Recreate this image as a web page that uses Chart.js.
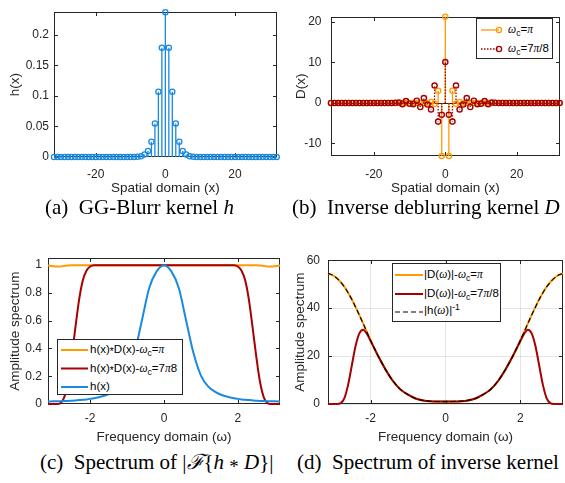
<!DOCTYPE html>
<html>
<head>
<meta charset="utf-8">
<script src="https://cdn.jsdelivr.net/npm/chart.js@4.4.1/dist/chart.umd.min.js"></script>
<style>
  html, body { margin: 0; padding: 0; background: #fff; }
  #fig { position: relative; width: 565px; height: 483px; overflow: hidden;
         font-family: "Liberation Sans", Arial, sans-serif; color: #262626; }
  canvas { position: absolute; }
  .cap { position: absolute; font-family: "Liberation Serif", "Times New Roman", serif;
         font-size: 21px; color: #000; white-space: nowrap; line-height: 1; }
  .cap i { font-style: italic; }
  .ast { position: relative; top: 0.22em; font-size: 0.9em; }
  .leg { position: absolute; background: #fff; border: 1px solid #262626; box-sizing: border-box; font-size: 11.5px; }
  .leg svg { position: absolute; left: 0; top: 0; }
  .leg .t { position: absolute; white-space: nowrap; line-height: 12px; color: #000; }
  .g { font-family: "Liberation Serif", "Times New Roman", serif; font-style: italic; }
  sub { font-size: 0.75em; vertical-align: -0.35em; line-height: 0; }
  sup { font-size: 0.75em; vertical-align: 0.5em; line-height: 0; }
</style>
</head>
<body>
<div id="fig">
  <canvas id="cA" width="282" height="200" style="left:0;top:0"></canvas>
  <canvas id="cB" width="283" height="200" style="left:282px;top:0"></canvas>
  <canvas id="cC" width="282" height="205" style="left:0;top:245px"></canvas>
  <canvas id="cD" width="283" height="205" style="left:282px;top:245px"></canvas>

  <!-- legend of panel (b) -->
  <div class="leg" style="left:476px;top:18px;width:77px;height:41px">
    <svg width="77" height="41">
      <line x1="4" y1="11" x2="22" y2="11" stroke="#ff9a00" stroke-width="1.3"/>
      <circle cx="22" cy="11" r="2.6" fill="none" stroke="#ff9a00" stroke-width="1.3"/>
      <line x1="4" y1="30" x2="22" y2="30" stroke="#a80000" stroke-width="1.3" stroke-dasharray="1.5 1.5"/>
      <circle cx="22" cy="30" r="2.6" fill="none" stroke="#a80000" stroke-width="1.4"/>
    </svg>
    <div class="t" style="left:31px;top:4px"><span class="g">ω</span><sub>c</sub>=<span class="g">π</span></div>
    <div class="t" style="left:31px;top:23px"><span class="g">ω</span><sub>c</sub>=7<span class="g">π</span>/8</div>
  </div>

  <!-- legend of panel (c) -->
  <div class="leg" style="left:57px;top:339px;width:126px;height:56px">
    <svg width="126" height="56">
      <line x1="3" y1="10" x2="30" y2="10" stroke="#ff9a00" stroke-width="2"/>
      <line x1="3" y1="28.5" x2="30" y2="28.5" stroke="#a80000" stroke-width="2"/>
      <line x1="3" y1="47" x2="30" y2="47" stroke="#1a8ae0" stroke-width="2"/>
    </svg>
    <div class="t" style="left:32px;top:3px">h(x)<span class="ast">*</span>D(x)-<span class="g">ω</span><sub>c</sub>=<span class="g">π</span></div>
    <div class="t" style="left:32px;top:21.5px">h(x)<span class="ast">*</span>D(x)-<span class="g">ω</span><sub>c</sub>=7<span class="g">π</span>8</div>
    <div class="t" style="left:32px;top:40px">h(x)</div>
  </div>

  <!-- legend of panel (d) -->
  <div class="leg" style="left:392px;top:263px;width:109px;height:59px">
    <svg width="109" height="59">
      <line x1="2" y1="11" x2="30" y2="11" stroke="#ff9a00" stroke-width="2"/>
      <line x1="2" y1="30" x2="30" y2="30" stroke="#a80000" stroke-width="2"/>
      <line x1="2" y1="48" x2="30" y2="48" stroke="#000" stroke-width="1.2" stroke-dasharray="5 3"/>
    </svg>
    <div class="t" style="left:31px;top:4px">|D(<span class="g">ω</span>)|-<span class="g">ω</span><sub>c</sub>=<span class="g">π</span></div>
    <div class="t" style="left:31px;top:23px">|D(<span class="g">ω</span>)|-<span class="g">ω</span><sub>c</sub>=7<span class="g">π</span>/8</div>
    <div class="t" style="left:31px;top:40px">|h(<span class="g">ω</span>)|<sup>-1</sup></div>
  </div>

  <div class="cap" style="left:45px;top:197px">(a)&nbsp; GG-Blurr kernel <i>h</i></div>
  <div class="cap" style="left:292px;top:197px">(b)&nbsp; Inverse deblurring kernel <i>D</i></div>
  <div class="cap" style="left:40px;top:452px">(c)&nbsp; Spectrum of |<i>ℱ</i>{<i>h</i> <span class="ast">*</span> <i>D</i>}|</div>
  <div class="cap" style="left:297px;top:452px">(d)&nbsp; Spectrum of inverse kernel</div>
</div>

<script>
// ---- spatial kernels, sampled at integer positions -32 .. 32 ----
const xPos = Array.from({ length: 65 }, (_, i) => i - 32);

const hKernel = [
  0, 0, 0, 0, 0, 0, 0, 0, 0, 0, 0, 0, 0, 0, 0, 0, 0, 0, 0, 0, 0, 0, 0, 0,
  0.0004, 0.0013, 0.0042, 0.0098, 0.025, 0.055, 0.107, 0.179,
  0.237,
  0.179, 0.107, 0.055, 0.025, 0.0098, 0.0042, 0.0013, 0.0004,
  0, 0, 0, 0, 0, 0, 0, 0, 0, 0, 0, 0, 0, 0, 0, 0, 0, 0, 0, 0, 0, 0, 0, 0
];

// D(x) for cut-off pi
const dKernelPi = [
  0, 0, 0, 0, 0, 0, 0, 0, 0, 0, 0, 0, 0, 0, 0, 0, 0, 0, 0, 0, 0, 0, 0, 0, 0, 0, 0,
  -0.1, 0.25, -0.2, 3.0, -13.1,
  21.3,
  -13.1, 3.0, -0.2, 0.25, -0.1,
  0, 0, 0, 0, 0, 0, 0, 0, 0, 0, 0, 0, 0, 0, 0, 0, 0, 0, 0, 0, 0, 0, 0, 0, 0, 0, 0
];

// D(x) for cut-off 7*pi/8
const dKernel7 = [
  0, 0, 0, 0, 0, 0, 0, 0, 0, 0, 0, 0, 0, 0, 0, 0, 0, 0,
  0.05, 0.1, -0.3, 0.45, -0.2, -0.3, 0.55, -1.0, 1.2, -0.4, -1.6, 4.3, -4.6, -2.9,
  10.1,
  -2.9, -4.6, 4.3, -1.6, -0.4, 1.2, -1.0, 0.55, -0.3, -0.2, 0.45, -0.3, 0.1, 0.05,
  0, 0, 0, 0, 0, 0, 0, 0, 0, 0, 0, 0, 0, 0, 0, 0, 0, 0
];

// ---- frequency responses, sampled over [-pi, pi] ----
const omega = [
  -3.1416, -3.0, -2.9, -2.8, -2.7, -2.6, -2.5, -2.4, -2.3, -2.2, -2.1, -2.0, -1.9, -1.8,
  -1.6, -1.4, -1.2, -1.0, -0.8, -0.6, -0.4, -0.2, 0,
  0.2, 0.4, 0.6, 0.8, 1.0, 1.2, 1.4, 1.6, 1.8, 1.9, 2.0, 2.1, 2.2, 2.3, 2.4, 2.5, 2.6,
  2.7, 2.8, 2.9, 3.0, 3.1416
];

const specConvPi = [
  0.997, 0.992, 0.99, 0.991, 0.994, 0.997, 0.999,
  1, 1, 1, 1, 1, 1, 1, 1, 1, 1, 1, 1, 1, 1, 1,
  1,
  1, 1, 1, 1, 1, 1, 1, 1, 1, 1, 1, 1, 1, 1, 1,
  0.999, 0.997, 0.994, 0.991, 0.99, 0.992, 0.997
];

const specConv7 = [
  0, 0, 0, 0.008, 0.05, 0.16, 0.34, 0.55, 0.75, 0.89, 0.96, 0.99,
  1, 1, 1, 1, 1, 1, 1, 1, 1, 1,
  1,
  1, 1, 1, 1, 1, 1, 1, 1, 1, 1,
  0.99, 0.96, 0.89, 0.75, 0.55, 0.34, 0.16, 0.05, 0.008, 0, 0, 0
];

const specH = [
  0.0185, 0.019, 0.0195, 0.020, 0.021, 0.022, 0.024, 0.026, 0.028, 0.030, 0.033, 0.037,
  0.042, 0.047, 0.061, 0.086, 0.125, 0.205, 0.365, 0.6, 0.835, 0.955,
  1.0,
  0.955, 0.835, 0.6, 0.365, 0.205, 0.125, 0.086, 0.061, 0.047, 0.042,
  0.037, 0.033, 0.030, 0.028, 0.026, 0.024, 0.022, 0.021, 0.020, 0.0195, 0.019, 0.0185
];

const magDPi = [
  54.5, 53.6, 52.4, 50.8, 48.8, 46.3, 43.5, 40.3, 37.0, 33.5, 30.0, 26.5, 23.2, 20.0,
  14.3, 9.5, 6.0, 3.9, 2.3, 1.5, 1.15, 1.04,
  1.0,
  1.04, 1.15, 1.5, 2.3, 3.9, 6.0, 9.5, 14.3,
  20.0, 23.2, 26.5, 30.0, 33.5, 37.0, 40.3, 43.5, 46.3, 48.8, 50.8, 52.4, 53.6, 54.5
];

const magD7 = [
  0, 0, 0, 0.4, 2.6, 8.3, 16.5, 24.5, 29.6, 31.0, 29.2, 26.2, 23.1, 20.0,
  14.3, 9.5, 6.0, 3.9, 2.3, 1.5, 1.15, 1.04,
  1.0,
  1.04, 1.15, 1.5, 2.3, 3.9, 6.0, 9.5, 14.3,
  20.0, 23.1, 26.2, 29.2, 31.0, 29.6, 24.5, 16.5, 8.3, 2.6, 0.4, 0, 0, 0
];

const invH = [
  54.5, 53.6, 52.4, 50.8, 48.8, 46.3, 43.5, 40.3, 37.0, 33.5, 30.0, 26.5, 23.2, 20.0,
  14.3, 9.5, 6.0, 3.9, 2.3, 1.5, 1.15, 1.04,
  1.0,
  1.04, 1.15, 1.5, 2.3, 3.9, 6.0, 9.5, 14.3,
  20.0, 23.2, 26.5, 30.0, 33.5, 37.0, 40.3, 43.5, 46.3, 48.8, 50.8, 52.4, 53.6, 54.5
];

// ---- tick positions ----
const xTicksSpatial = [-20, 0, 20];
const yTicksH = [0, 0.05, 0.1, 0.15, 0.2];
const yTicksD = [-10, 0, 10, 20];
const xTicksFreq = [-2, 0, 2];
const yTicksConv = [0, 0.2, 0.4, 0.6, 0.8, 1];
const yTicksInv = [0, 20, 40, 60];

const ORANGE = '#ff9a00';
const DARKRED = '#a80000';
const BLUE = '#1a8ae0';
const AXIS = '#262626';
const TICK_FONT = 12;
const TITLE_FONT = 13.5;

Chart.defaults.font.family = '"Liberation Sans", Arial, sans-serif';
Chart.defaults.color = AXIS;

// Axes box with inward tick marks on all four sides, plus optional stem baseline.
const axesBox = {
  id: 'axesBox',
  beforeDatasetsDraw(chart, args, opts) {
    const { ctx, chartArea: a, scales } = chart;
    const xs = scales.x, ys = scales.y;
    const L = Math.round(a.left) + 0.5, R = Math.round(a.right) - 0.5;
    const T = Math.round(a.top) + 0.5, B = Math.round(a.bottom) - 0.5;
    ctx.save();
    ctx.strokeStyle = AXIS;
    ctx.lineWidth = 1;
    if (opts.baseline) {
      const y0 = Math.round(ys.getPixelForValue(0)) + 0.5;
      ctx.beginPath(); ctx.moveTo(L, y0); ctx.lineTo(R, y0); ctx.stroke();
    }
    ctx.strokeRect(L, T, R - L, B - T);
    const tl = 3.5;
    ctx.beginPath();
    xs.ticks.forEach(t => {
      const px = Math.round(xs.getPixelForValue(t.value)) + 0.5;
      ctx.moveTo(px, B); ctx.lineTo(px, B - tl);
      ctx.moveTo(px, T); ctx.lineTo(px, T + tl);
    });
    ys.ticks.forEach(t => {
      const py = Math.round(ys.getPixelForValue(t.value)) + 0.5;
      ctx.moveTo(L, py); ctx.lineTo(L + tl, py);
      ctx.moveTo(R, py); ctx.lineTo(R - tl, py);
    });
    ctx.stroke();
    ctx.restore();
  }
};

function scalesFor(o) {
  const grid = {
    display: !!o.grid, color: 'rgba(0,0,0,0.13)', lineWidth: 0.8, drawTicks: false
  };
  return {
    x: {
      type: 'linear', min: o.xMin, max: o.xMax,
      afterBuildTicks: s => { s.ticks = o.xTicks.map(v => ({ value: v })); },
      afterFit: s => { s.height = o.xHeight; },
      ticks: { padding: o.xTickPad, font: { size: TICK_FONT }, color: AXIS, maxRotation: 0, autoSkip: false,
               callback: v => String(v) },
      grid: grid,
      border: { display: false },
      title: { display: true, text: o.xTitle, font: { size: TITLE_FONT }, color: AXIS,
               padding: { top: 0, bottom: o.xTitlePad } }
    },
    y: {
      type: 'linear', min: o.yMin, max: o.yMax,
      afterBuildTicks: s => { s.ticks = o.yTicks.map(v => ({ value: v })); },
      afterFit: s => { s.width = o.yWidth; },
      ticks: { padding: o.yTickPad, font: { size: TICK_FONT }, color: AXIS, autoSkip: false,
               callback: v => String(v) },
      grid: grid,
      border: { display: false },
      title: { display: true, text: o.yTitle, font: { size: TITLE_FONT }, color: AXIS,
               padding: { top: o.yTitlePad, bottom: 0 } }
    }
  };
}

function baseOptions(o, pad, boxOpts) {
  return {
    responsive: false,
    devicePixelRatio: 1,
    animation: false,
    events: [],
    layout: { padding: pad },
    plugins: { legend: { display: false }, tooltip: { enabled: false }, axesBox: boxOpts || {} },
    scales: scalesFor(o)
  };
}

// stem lines: each value drawn as a segment from 0 to the value
function stemPoints(xv, yv) {
  const pts = [];
  xv.forEach((x, i) => { pts.push({ x, y: 0 }, { x, y: yv[i] }, { x, y: null }); });
  return pts;
}
function markerPoints(xv, yv) { return xv.map((x, i) => ({ x, y: yv[i] })); }
function curvePoints(xv, yv) { return xv.map((x, i) => ({ x, y: yv[i] })); }

function stemSet(vals, color, dash, order) {
  return {
    data: stemPoints(xPos, vals), borderColor: color, borderWidth: 1.3, borderDash: dash,
    pointRadius: 0, spanGaps: false, tension: 0, fill: false, order, clip: false
  };
}
function markerSet(vals, color, bw, order) {
  return {
    data: markerPoints(xPos, vals), showLine: false, pointRadius: 2.6, pointBorderWidth: bw,
    pointBorderColor: color, pointBackgroundColor: 'rgba(0,0,0,0)', order, clip: false
  };
}
function curveSet(yv, color, width, dash, order) {
  return {
    data: curvePoints(omega, yv), borderColor: color, borderWidth: width, borderDash: dash,
    pointRadius: 0, cubicInterpolationMode: 'monotone', fill: false, order, clip: false
  };
}

// (a) blur kernel h(x)
new Chart(document.getElementById('cA'), {
  type: 'line',
  data: { datasets: [
    stemSet(hKernel, BLUE, [], 2),
    markerSet(hKernel, BLUE, 1.3, 1)
  ] },
  options: baseOptions({
    xMin: -32, xMax: 32, xTicks: xTicksSpatial, xHeight: 43, xTickPad: 10, xTitle: 'Spatial domain (x)', xTitlePad: 3.9,
    yMin: 0, yMax: 0.237, yTicks: yTicksH, yWidth: 54, yTickPad: 5, yTitle: 'h(x)', yTitlePad: 6.9
  }, { top: 10, right: 4, left: 0, bottom: 0 }),
  plugins: [axesBox]
});

// (b) inverse deblurring kernels D(x)
new Chart(document.getElementById('cB'), {
  type: 'line',
  data: { datasets: [
    stemSet(dKernelPi, ORANGE, [], 4),
    markerSet(dKernelPi, ORANGE, 1.3, 3),
    stemSet(dKernel7, DARKRED, [1.5, 1.5], 2),
    markerSet(dKernel7, DARKRED, 1.4, 1)
  ] },
  options: baseOptions({
    xMin: -32, xMax: 32, xTicks: xTicksSpatial, xHeight: 44, xTickPad: 11, xTitle: 'Spatial domain (x)', xTitlePad: 3.9,
    yMin: -13.1, yMax: 21.3, yTicks: yTicksD, yWidth: 49, yTickPad: 9.5, yTitle: 'D(x)', yTitlePad: 10.9
  }, { top: 10, right: 3, left: 0, bottom: 0 }, { baseline: true }),
  plugins: [axesBox]
});

// (c) amplitude spectrum of h * D
new Chart(document.getElementById('cC'), {
  type: 'line',
  data: { datasets: [
    curveSet(specConvPi, ORANGE, 2, [], 3),
    curveSet(specConv7, DARKRED, 2, [], 2),
    curveSet(specH, BLUE, 2, [], 1)
  ] },
  options: baseOptions({
    xMin: -Math.PI, xMax: Math.PI, xTicks: xTicksFreq, xHeight: 46, xTickPad: 7, xTitle: 'Frequency domain (ω)', xTitlePad: 4.9,
    yMin: 0, yMax: 1.05, yTicks: yTicksConv, yWidth: 48, yTickPad: 6, yTitle: 'Amplitude spectrum', yTitlePad: 6.9
  }, { top: 10, right: 2, left: 0, bottom: 0 }),
  plugins: [axesBox]
});

// (d) amplitude spectrum of the inverse kernels
new Chart(document.getElementById('cD'), {
  type: 'line',
  data: { datasets: [
    curveSet(magDPi, ORANGE, 2, [], 3),
    curveSet(magD7, DARKRED, 2, [], 2),
    curveSet(invH, '#000', 1.2, [5, 3], 1)
  ] },
  options: baseOptions({
    xMin: -Math.PI, xMax: Math.PI, xTicks: xTicksFreq, xHeight: 46, xTickPad: 7, xTitle: 'Frequency domain (ω)', xTitlePad: 4.9,
    yMin: 0, yMax: 60, yTicks: yTicksInv, yWidth: 46, yTickPad: 8, yTitle: 'Amplitude spectrum', yTitlePad: 9.9,
    grid: true
  }, { top: 10, right: 2, left: 0, bottom: 0 }),
  plugins: [axesBox]
});
</script>
</body>
</html>
